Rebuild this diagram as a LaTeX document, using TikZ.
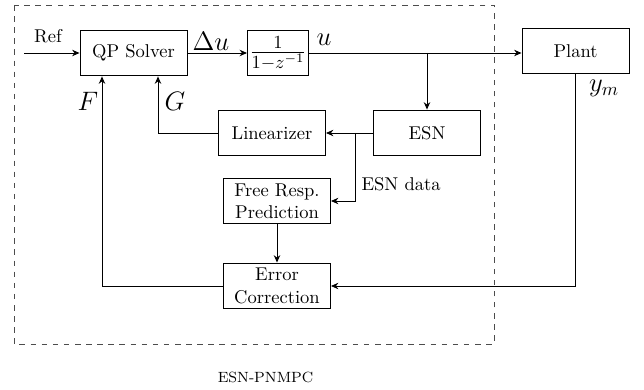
\documentclass[tikz,border=0pt]{standalone}
\usepackage{tikz}
\usetikzlibrary{arrows.meta,positioning,calc}

\begin{document}
\begin{tikzpicture}[
  x=0.54pt, y=-0.54pt,
  block/.style={
    draw, line width=0.5pt, align=center, inner sep=2pt,
    minimum width=57.8pt, minimum height=24.8pt},
  arrow/.style={-{Stealth[length=4pt,width=3.5pt]}, line width=0.5pt},
  sig/.style={font=\Large},
  ann/.style={font=\normalsize},
]
  \useasboundingbox (0,0) rectangle (644,390);

  %% ---- Frame ----
  \draw[dashed, black!70] (14,5) rectangle (494,344);

  %% ---- Blocks ----
  \node[block] (qp)    at (133.5,53) {QP Solver};
  \node[block, minimum width=30.2pt, minimum height=23.8pt, inner sep=1pt]
                (frac) at (278,53)   {\Large$\frac{1}{1-z^{-1}}$};
  \node[block] (plant) at (575.5,51) {Plant};
  \node[block] (esn)   at (427,133)  {ESN};
  \node[block] (lin)   at (272,133)  {Linearizer};
  \node[block] (free)  at (277,201)  {Free Resp.\\Prediction};
  \node[block] (err)   at (277,286)  {Error\\Correction};

  %% ---- Branch points ----
  \coordinate (refin) at (24,53);
  \coordinate (ubr)   at (esn.north |- qp.east);
  \coordinate (ebr)   at (355,133);

  %% ---- Signal flow ----
  \draw[arrow] (refin)     -- (qp.west);
  \draw[arrow] (qp.east)   -- (frac.west);
  \draw[arrow] (frac.east) -- (frac.east -| plant.west);
  \draw[arrow] (ubr)       -- (esn.north);
  \draw[arrow] (esn.west)  -- (lin.east);
  \draw[arrow] (ebr)       |- (free.east);
  \draw[arrow] (free.south) -- (err.north);
  \draw[arrow] (lin.west)  -| ($(qp.south)+(24.5,0)$);
  \draw[arrow] (err.west)  -| ($(qp.south)+(-31.5,0)$);
  \draw[arrow] (plant.south) |- (err.east);

  %% ---- Labels ----
  \node[ann] (reflbl)  at (48,36.5)  {Ref};
  \node[sig] (dulbl)   at (211,41)   {$\Delta u$};
  \node[sig] (ulbl)    at (324,40)   {$u$};
  \node[sig] (flbl)    at (88,101.5) {$F$};
  \node[sig] (glbl)    at (175,101.5) {$G$};
  \node[sig] (ymlbl)   at (604,88)   {$y_m$};
  \node[ann, anchor=west] (datalbl) at (355,184) {ESN data};
  \node[font=\footnotesize] (title) at (265.5,377) {ESN-PNMPC};

\end{tikzpicture}
\end{document}
